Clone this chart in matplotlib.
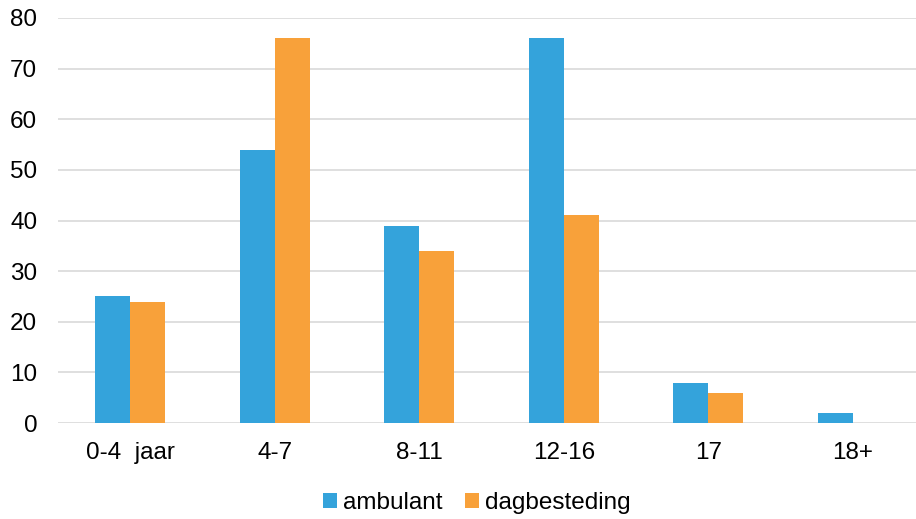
import matplotlib.pyplot as plt
import numpy as np

plt.rcParams['font.family'] = ['Liberation Sans', 'DejaVu Sans']

# Data
categories = ['0-4  jaar', '4-7', '8-11', '12-16', '17', '18+']
ambulant = [25, 54, 39, 76, 8, 2]
dagbesteding = [24, 76, 34, 41, 6, 0]

blue = '#34A3DB'
orange = '#F8A13A'

fig = plt.figure(figsize=(9.16, 5.19), dpi=100)
ax = fig.add_axes([58 / 916, 1 - 423 / 519, (925 - 58) / 916, 405 / 519])

x = np.arange(len(categories))
w = 0.242
ax.bar(x - w / 2, ambulant, w, color=blue, label='ambulant', zorder=3)
ax.bar(x + w / 2, dagbesteding, w, color=orange, label='dagbesteding', zorder=3)

ax.set_xlim(-0.5, len(categories) - 0.5)
ax.set_ylim(0, 80)
ax.set_yticks(range(0, 81, 10))
ax.set_xticks(x)
ax.set_xticklabels(categories)
ax.tick_params(axis='both', length=0, labelsize=17.5, colors='#000000')
ax.tick_params(axis='y', pad=15)
ax.tick_params(axis='x', pad=14)

ax.grid(axis='y', color='#D9D9D9', linewidth=1.2, zorder=0)
for s in ax.spines.values():
    s.set_visible(False)

fig.legend(loc='center', bbox_to_anchor=(477 / 916, 1 - 503 / 519), ncol=2, frameon=False,
           fontsize=17.5, handlelength=0.55, handleheight=0.55, handletextpad=0.25,
           columnspacing=0.95)

plt.savefig('out.png')
